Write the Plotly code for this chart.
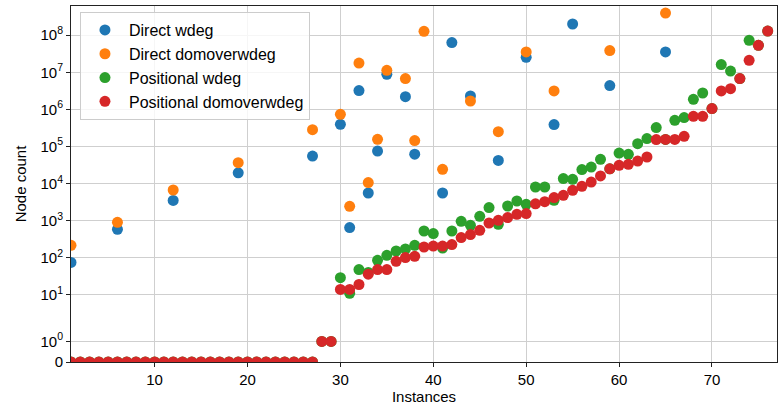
import numpy as np
import plotly.graph_objects as go

# ---------------- data ----------------
instances = list(range(1, 77))

direct_instances = [1, 6, 12, 19, 27, 30, 31, 32, 33, 34, 35, 37, 38, 39,
                    41, 42, 44, 47, 50, 53, 55, 59, 65]
direct_wdeg = [75, 585, 3500, 19500, 55000, 395000, 650, 3.2e6, 5560, 75000,
               8.8e6, 2.2e6, 62000, None, 5560, 6.3e7, 2.29e6, 42000, 2.53e7,
               388000, 2.0e8, 4.37e6, 3.52e7]
direct_domoverwdeg = [216, 900, 6700, 36500, 284000, 736000, 2440, 1.77e7,
                      10600, 156000, 1.13e7, 6.75e6, 144000, 1.27e8, 24200,
                      None, 1.68e6, 251000, 3.52e7, 3.13e6, None, 3.84e7, 3.95e8]

positional_wdeg = ([0] * 27 + [1, 1] +
                   [29, 11, 48, 40, 85, 116, 152, 172, 217, 526,
                    448, 183, 526, 960, 749, 1309, 2249, 798, 2483, 3388,
                    2760, 8073, 8073, 3530, 13600, 13000, 23800, 27900, 45100, 25000,
                    66500, 61400, 119000, 163000, 322000, 155000, 507000, 600000,
                    1.87e6, 2.76e6, 1.05e6, 1.61e7, 1.08e7, 6.75e6, 7.26e7,
                    5.32e7, 1.29e8])
positional_domoverwdeg = ([0] * 27 + [1, 1] +
                          [14, 14, 19, 36, 48, 48, 80, 101, 109, 195,
                           207, 207, 226, 349, 421, 550, 865, 1021, 1208, 1483,
                           1549, 2850, 3250, 4200, 4820, 6580, 8430, 11000, 16000, 25000,
                           31000, 33000, 40500, 52000, 153000, 155000, 155000, 188000,
                           650000, 650000, 1.05e6, 3.13e6, 3.62e6, 6.75e6, 2.1e7,
                           5.32e7, 1.29e8])

tick_values = [0, 1, 10, 100, 1e3, 1e4, 1e5, 1e6, 1e7, 1e8]
tick_labels = ["0", "10<sup>0</sup>", "10<sup>1</sup>", "10<sup>2</sup>",
               "10<sup>3</sup>", "10<sup>4</sup>", "10<sup>5</sup>",
               "10<sup>6</sup>", "10<sup>7</sup>", "10<sup>8</sup>"]

# ---------------- symlog transform (linthresh=2, linscale=1) ----------------
LINTHRESH = 2.0
LINSCALE_ADJ = 1.0 / (1.0 - 1.0 / 10.0)


def symlog(v):
    if v is None:
        return None
    if abs(v) <= LINTHRESH:
        return v * LINSCALE_ADJ / LINTHRESH
    return np.sign(v) * (LINSCALE_ADJ + np.log10(abs(v) / LINTHRESH))


def tr(arr):
    return [symlog(v) for v in arr]


FONT = "Liberation Sans, Arial, Helvetica, sans-serif"
series = [
    ("Direct wdeg", direct_instances, direct_wdeg, "#1f77b4"),
    ("Direct domoverwdeg", direct_instances, direct_domoverwdeg, "#ff7f0e"),
    ("Positional wdeg", instances, positional_wdeg, "#2ca02c"),
    ("Positional domoverwdeg", instances, positional_domoverwdeg, "#d62728"),
]

fig = go.Figure()
for name, xs, ys, col in series:
    fig.add_trace(go.Scatter(
        x=xs, y=tr(ys), mode="markers", name=name, legendgroup=name,
        marker=dict(size=11, color=col, line=dict(width=0)),
        cliponaxis=True,
    ))

fig.update_layout(
    width=778, height=408,
    margin=dict(l=71, r=1, t=6, b=46),
    paper_bgcolor="white", plot_bgcolor="white",
    font=dict(family=FONT, size=16, color="black"),
    showlegend=True,
    legend=dict(
        x=0.0127, y=0.983, xanchor="left", yanchor="top",
        bgcolor="rgba(255,255,255,0.8)", bordercolor="#cccccc", borderwidth=1,
        font=dict(family=FONT, size=16, color="black"),
        tracegroupgap=1, traceorder="normal", itemwidth=38,
        entrywidth=250, entrywidthmode="pixels",
    ),
)
fig.update_xaxes(
    range=[1, 77], tickvals=[10, 20, 30, 40, 50, 60, 70],
    showgrid=True, gridcolor="#cfcfcf", gridwidth=1,
    showline=True, linecolor="#222222", linewidth=1, mirror=True,
    ticks="outside", ticklen=4, tickcolor="#222222",
    zeroline=False, tickfont=dict(size=15),
    title=dict(text="Instances", font=dict(size=15), standoff=2),
)
fig.update_yaxes(
    range=[0, 9.596], tickvals=tr(tick_values), ticktext=tick_labels,
    showgrid=True, gridcolor="#cfcfcf", gridwidth=1,
    showline=True, linecolor="#222222", linewidth=1, mirror=True,
    ticks="outside", ticklen=4, tickcolor="#222222",
    zeroline=False, tickfont=dict(size=15),
    title=dict(text="Node count", font=dict(size=15), standoff=10),
)

fig.write_html("out.html", config={"displayModeBar": False},
               post_script="document.body.style.margin='0px';")
